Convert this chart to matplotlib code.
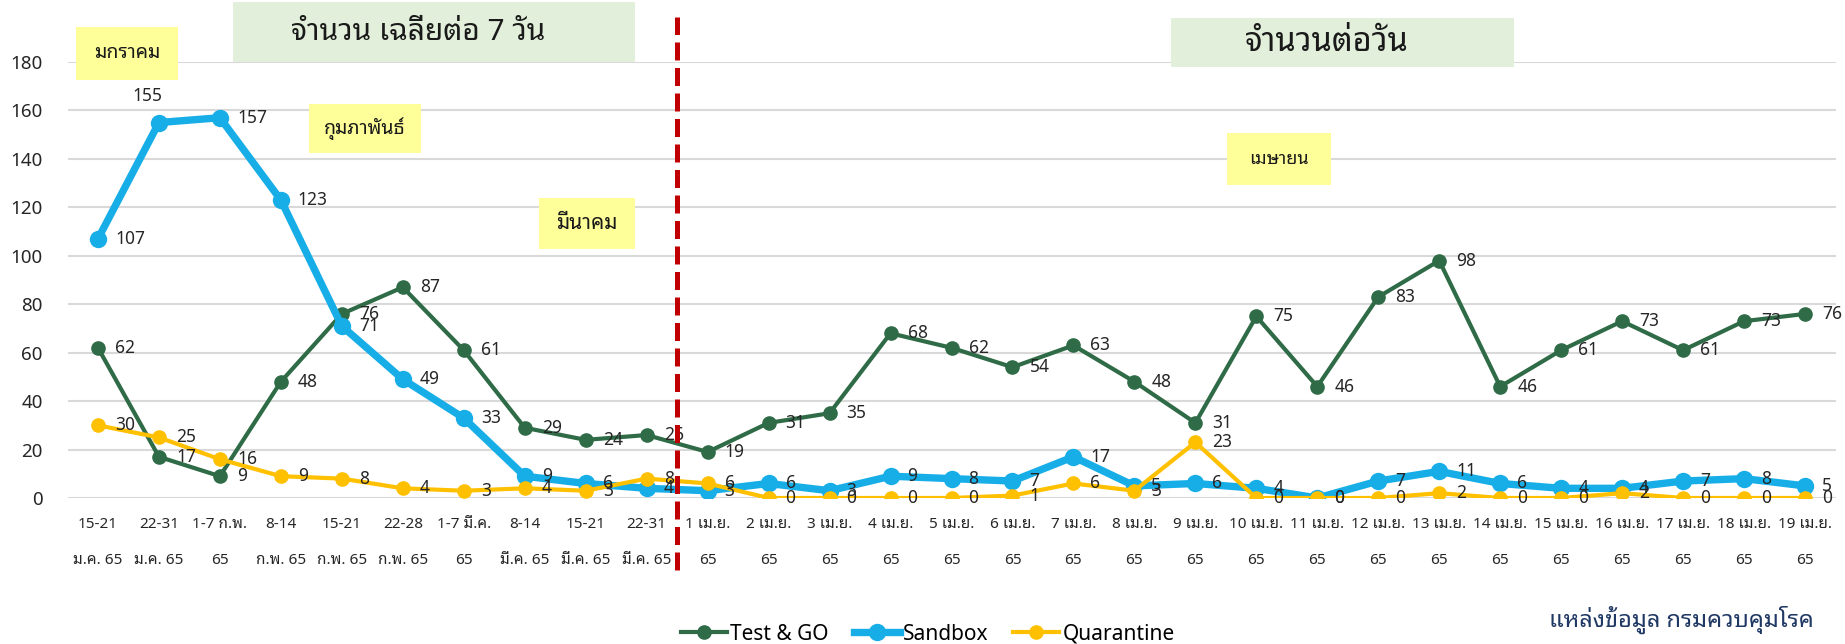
# Test & GO / Sandbox / Quarantine - daily arrivals chart
import matplotlib
matplotlib.use('Agg')
import matplotlib.pyplot as plt
import matplotlib.font_manager as fm
from matplotlib.ft2font import FT2Font
from matplotlib.patches import Rectangle

weeks = ['15-21\nม.ค. 65', '22-31\nม.ค. 65', '1-7 ก.พ.\n65', '8-14\nก.พ. 65',
         '15-21\nก.พ. 65', '22-28\nก.พ. 65', '1-7 มี.ค.\n65', '8-14\nมี.ค. 65',
         '15-21\nมี.ค. 65', '22-31\nมี.ค. 65']
days = ['%d เม.ย.\n65' % d for d in range(1, 20)]
labels = weeks + days

test_go = [62, 17, 9, 48, 76, 87, 61, 29, 24, 26,
           19, 31, 35, 68, 62, 54, 63, 48, 31, 75, 46, 83, 98, 46, 61, 73, 61, 73, 76]
sandbox = [107, 155, 157, 123, 71, 49, 33, 9, 6, 4,
           3, 6, 3, 9, 8, 7, 17, 5, 6, 4, 0, 7, 11, 6, 4, 4, 7, 8, 5]
quarantine = [30, 25, 16, 9, 8, 4, 3, 4, 3, 8,
              6, 0, 0, 0, 0, 1, 6, 3, 23, 0, 0, 0, 2, 0, 0, 2, 0, 0, 0]


def find_thai_font():
    found = []
    for f in fm.fontManager.ttflist:
        try:
            if FT2Font(f.fname).get_char_index(0x0E08):
                found.append(f.name)
        except Exception:
            pass
    for name in found:
        if 'Noto Sans Thai' in name:
            return name
    for name in found:
        if 'Sans' in name:
            return name
    return found[0] if found else None


thai = find_thai_font()
fams = ['Noto Sans'] + ([thai] if thai else []) + ['DejaVu Sans']
plt.rcParams['font.family'] = fams

W, H = 1845, 644
fig = plt.figure(figsize=(W / 100, H / 100), dpi=100)
ax = fig.add_axes([67.5 / W, (H - 498) / H, 1768 / W, 436 / H])

x = list(range(len(labels)))
green, blue, gold = '#2E6B46', '#17AEE8', '#FFC000'

ax.plot(x, test_go, color=green, lw=3, marker='o', ms=9.5, zorder=3, label='Test & GO')
ax.plot(x, sandbox, color=blue, lw=5.3, marker='o', ms=11.5, zorder=4, label='Sandbox')
ax.plot(x, quarantine, color=gold, lw=3, marker='o', ms=9.5, zorder=5, label='Quarantine')

for series in (test_go, sandbox, quarantine):
    for i, v in enumerate(series):
        if series is sandbox and i == 1:
            ax.annotate(str(v), (i, v), xytext=(-12, 27), textcoords='offset pixels',
                        ha='center', va='center', fontsize=12.5, color='#262626', zorder=6)
        else:
            ax.annotate(str(v), (i, v), xytext=(17, 0), textcoords='offset pixels',
                        ha='left', va='center', fontsize=12.5, color='#262626', zorder=6)

# divider between weekly averages and daily values
split = len(weeks) - 0.5
ax.plot([split, split], [-29.7, 198.6], color='#C00000', lw=3.6, dashes=(3.6, 1.5),
        clip_on=False, zorder=7)

ax.set_xlim(-0.5, len(labels) - 0.5)
ax.set_ylim(0, 180)
ax.set_yticks(range(0, 181, 20))
ax.set_xticks(x)
ax.set_xticklabels(labels, fontsize=11, linespacing=2.9, color='#262626')
ax.tick_params(axis='x', length=0, pad=14)
ax.tick_params(axis='y', length=0, pad=18, labelsize=13.5, labelcolor='#262626')
ax.grid(axis='y', color='#D9D9D9', lw=1.5)
ax.set_axisbelow(True)
for s in ax.spines.values():
    s.set_visible(False)


def box(x0, y0, x1, y1, text, fc, size, dx=0):
    fig.patches.append(Rectangle((x0 / W, 1 - y1 / H), (x1 - x0) / W, (y1 - y0) / H,
                                 transform=fig.transFigure, facecolor=fc,
                                 edgecolor='none', zorder=1))
    fig.text(((x0 + x1) / 2 + dx) / W, 1 - (y0 + y1) / 2 / H, text, ha='center',
             va='center', fontsize=size, color='#1a1a1a', zorder=8)


box(233, 2, 635, 62, 'จำนวน เฉลี่ยต่อ 7 วัน', '#E2EFDA', 21.5, dx=-16)
box(1171, 18, 1514, 67, 'จำนวนต่อวัน', '#E2EFDA', 23.5, dx=-16)
box(76, 27, 178, 80, 'มกราคม', '#FFFF99', 14)
box(309, 104, 421, 153, 'กุมภาพันธ์', '#FFFF99', 14)
box(539, 198, 635, 249, 'มีนาคม', '#FFFF99', 15)
box(1227, 133, 1331, 185, 'เมษายน', '#FFFF99', 13)

fig.text(1549 / W, 1 - 620 / H, 'แหล่งข้อมูล กรมควบคุมโรค', ha='left', va='center',
         fontsize=17, color='#203864')

fig.legend(loc='center', bbox_to_anchor=(928 / W, 1 - 634 / H), ncol=3, frameon=False,
           fontsize=15, handlelength=2.2, handletextpad=0.15, columnspacing=1.2,
           borderpad=0, borderaxespad=0)

fig.savefig('out.png', dpi=100)
